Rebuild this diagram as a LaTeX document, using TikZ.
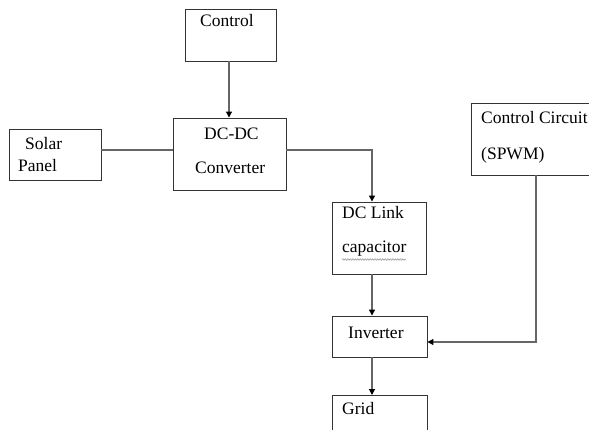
\documentclass[tikz,border=0pt]{standalone}
\usepackage{fontspec}
\setmainfont{Liberation Serif}
\usetikzlibrary{arrows.meta,decorations.pathmorphing}
\begin{document}
\begin{tikzpicture}[x=1pt,y=-1pt,
  box/.style={draw=black!80,line width=0.9pt,inner sep=0pt},
  lbl/.style={font=\fontsize{17.5}{20}\selectfont,inner sep=0pt,anchor=base west},
  conn/.style={draw=black!60,line width=1.2pt},
  arr/.style={conn,-{Triangle[length=6pt,width=6pt,fill=black,color=black]}}]
\useasboundingbox (0,0) rectangle (589,430);
\fill[white] (0,0) rectangle (589,430);
% boxes
\node[minimum width=91pt,minimum height=52pt,box] (control) at (230.5,35) {};
\node[minimum width=113pt,minimum height=72pt,box] (dcdc) at (229.5,154) {};
\node[minimum width=92pt,minimum height=51pt,box] (solar) at (55,154.5) {};
\node[minimum width=94pt,minimum height=72pt,box] (link) at (379,238) {};
\node[minimum width=95pt,minimum height=41pt,box] (inv) at (379.5,336.5) {};
\node[minimum width=120pt,minimum height=72pt,box] (ccs) at (531,139) {};
\draw[box] (332,432) -- (332,395) -- (427,395) -- (427,432);
\coordinate (gridtop) at (372,395);
% texts
\node[lbl] (t1) at (200,27) {Control};
\node[lbl] (t2) at (204,140) {DC-DC};
\node[lbl] (t3) at (195,174) {Converter};
\node[lbl] (t4) at (25,150) {Solar};
\node[lbl] (t5) at (18,172) {Panel};
\node[lbl] (t6) at (342,219) {DC Link};
\node[lbl] (t7) at (342,253) {capacitor};
\node[lbl] (t8) at (481,124) {Control Circuit};
\node[lbl] (t9) at (481,160) {(SPWM)};
\node[lbl] (t10) at (348,338) {Inverter};
\node[lbl] (t11) at (342,414) {Grid};
\draw[draw=black!45,line width=0.5pt,decorate,decoration={snake,amplitude=0.8pt,segment length=2.5pt}] (342,259.5) -- (406,259.5);
% connectors
\draw[arr] (control.south -| 229,0) -- (dcdc.north -| 229,0);
\draw[conn] (solar.east |- 0,150) -- (dcdc.west |- 0,150);
\draw[arr] (dcdc.east |- 0,150) -- (372,150) -- (link.north -| 372,0);
\draw[arr] (link.south -| 372,0) -- (inv.north -| 372,0);
\draw[arr] (inv.south -| 372,0) -- (gridtop);
\draw[arr] (ccs.south -| 536,0) -- (536,342) -- (inv.east |- 0,342);
\end{tikzpicture}
\end{document}
